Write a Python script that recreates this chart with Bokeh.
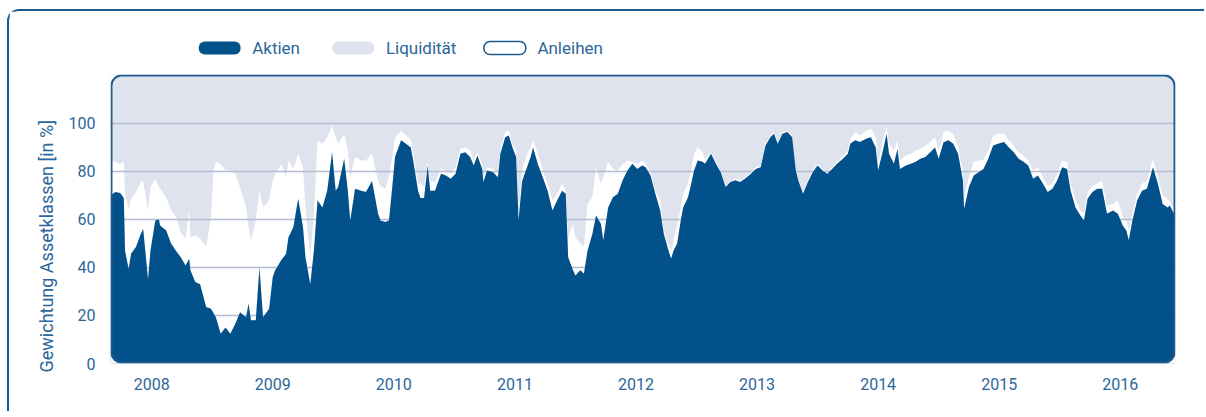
import numpy as np
from bokeh.plotting import figure
from bokeh.layouts import column
from bokeh.models import BoxAnnotation, FixedTicker, Range1d, ColumnDataSource, Title
try:
    from bokeh.models import Node
except ImportError:
    from bokeh.models.nodes import Node
from bokeh.core.properties import value
from bokeh.embed import file_html
from bokeh.resources import INLINE

# ---------------- data (fractional years, weights in %) ----------------
dates = [
    2008.16, 2008.20, 2008.24, 2008.27, 2008.28, 2008.31, 2008.33, 2008.37, 2008.41, 2008.43,
    2008.47, 2008.49, 2008.53, 2008.56, 2008.57, 2008.62, 2008.66, 2008.70, 2008.74, 2008.78,
    2008.81, 2008.82, 2008.86, 2008.90, 2008.95, 2008.99, 2009.01, 2009.03, 2009.07, 2009.11,
    2009.15, 2009.19, 2009.23, 2009.28, 2009.30, 2009.32, 2009.36, 2009.39, 2009.42, 2009.47,
    2009.50, 2009.52, 2009.57, 2009.61, 2009.63, 2009.67, 2009.71, 2009.75, 2009.77, 2009.81,
    2009.84, 2009.87, 2009.91, 2009.95, 2009.99, 2010.02, 2010.04, 2010.09, 2010.12, 2010.14,
    2010.18, 2010.23, 2010.27, 2010.32, 2010.37, 2010.39, 2010.43, 2010.46, 2010.49, 2010.51,
    2010.56, 2010.60, 2010.64, 2010.66, 2010.70, 2010.72, 2010.75, 2010.78, 2010.80, 2010.84,
    2010.89, 2010.93, 2010.97, 2011.01, 2011.05, 2011.09, 2011.13, 2011.16, 2011.19, 2011.23,
    2011.24, 2011.27, 2011.32, 2011.36, 2011.38, 2011.42, 2011.45, 2011.48, 2011.51, 2011.53,
    2011.56, 2011.60, 2011.63, 2011.65, 2011.69, 2011.73, 2011.77, 2011.81, 2011.85, 2011.89,
    2011.92, 2011.94, 2011.98, 2012.00, 2012.04, 2012.07, 2012.10, 2012.14, 2012.17, 2012.21,
    2012.23, 2012.27, 2012.31, 2012.35, 2012.39, 2012.43, 2012.47, 2012.51, 2012.55, 2012.58,
    2012.62, 2012.66, 2012.70, 2012.73, 2012.76, 2012.79, 2012.81, 2012.84, 2012.87, 2012.89,
    2012.93, 2012.95, 2012.98, 2013.01, 2013.05, 2013.07, 2013.12, 2013.16, 2013.20, 2013.24,
    2013.28, 2013.32, 2013.36, 2013.40, 2013.45, 2013.49, 2013.53, 2013.57, 2013.61, 2013.64,
    2013.67, 2013.71, 2013.75, 2013.79, 2013.82, 2013.84, 2013.88, 2013.92, 2013.96, 2014.00,
    2014.04, 2014.08, 2014.12, 2014.16, 2014.21, 2014.25, 2014.27, 2014.31, 2014.35, 2014.40,
    2014.44, 2014.48, 2014.50, 2014.54, 2014.57, 2014.59, 2014.63, 2014.66, 2014.68, 2014.73,
    2014.77, 2014.81, 2014.85, 2014.89, 2014.93, 2014.97, 2015.00, 2015.04, 2015.08, 2015.12,
    2015.16, 2015.20, 2015.21, 2015.25, 2015.29, 2015.33, 2015.37, 2015.41, 2015.45, 2015.49,
    2015.54, 2015.58, 2015.62, 2015.66, 2015.70, 2015.74, 2015.78, 2015.82, 2015.86, 2015.90,
    2015.94, 2015.98, 2016.02, 2016.06, 2016.09, 2016.13, 2016.17, 2016.20, 2016.23, 2016.27,
    2016.31, 2016.35, 2016.39, 2016.44, 2016.48, 2016.52, 2016.55, 2016.57, 2016.60, 2016.64,
    2016.68, 2016.72, 2016.77, 2016.81, 2016.85, 2016.89, 2016.91, 2016.95,
]

aktien = [
    70, 71.4, 71, 69, 47, 39.4, 45.7, 48.5, 54, 56,
    35, 47, 59.6, 60, 57.5, 55.4, 50, 47, 44.3, 40.8,
    43.6, 38.8, 34, 33, 23.5, 22.8, 21, 19.3, 12.4, 15,
    12.4, 16.5, 21.4, 19.3, 25, 18, 18, 40, 19.3, 22.8,
    36, 38.8, 43, 45.7, 52.6, 56.8, 68.6, 56.8, 44.3, 33,
    47, 68, 65, 72, 88, 72, 73.5, 85.3, 72, 59.6,
    72.8, 72, 71.4, 76, 62.4, 59.6, 59, 59.6, 75, 86,
    93, 91.5, 90, 84.6, 72, 69, 69, 82.5, 72, 72,
    79, 78.3, 77, 79, 87.4, 88, 86, 82.5, 86.7, 81,
    75.6, 80.4, 79.7, 77.6, 87.4, 94.3, 95, 90, 86, 59.6,
    76, 81.8, 86, 90, 83, 77.6, 72, 63.7, 68, 72,
    70.7, 44.3, 38.8, 36.7, 38.8, 37.4, 47, 54, 61.7, 58.2,
    51.3, 65, 69.3, 70.7, 76.3, 80.4, 83.2, 81, 82.5, 81.8,
    78.3, 70.7, 63.7, 54, 48.5, 43.6, 47, 50, 59.6, 65,
    69.3, 73.5, 80.4, 84.6, 84, 83.2, 87.4, 83.2, 79.7, 73.5,
    75.6, 76.3, 75.6, 77, 79, 81, 81.8, 90.8, 94.3, 95.7,
    91.5, 95.7, 96.4, 94.3, 80.4, 76.3, 70.7, 75.6, 79.7, 82.5,
    80.4, 79, 81, 83.2, 85.3, 87.4, 91.5, 93, 92.3, 93.6,
    94.3, 90, 80.4, 88.7, 95.7, 87.4, 83.2, 89.4, 81, 82.5,
    83.2, 84, 85.3, 86, 88, 90, 85.3, 92.2, 93, 91.5,
    87.4, 76.3, 64.4, 73.5, 78.3, 79.7, 81, 85.3, 90.8, 91.5,
    92.3, 90, 88, 85.3, 84, 82.5, 77, 78.3, 75, 71.4,
    72.8, 76.3, 81.8, 81, 72, 65, 61.7, 59.6, 68.6, 71.4,
    72.8, 72.8, 62.4, 63.7, 62.4, 57.5, 55.4, 51.3, 59.6, 68,
    72, 72.8, 81.8, 75, 66.5, 65, 65.8, 61.7,
]

# top of the Anleihen band (Aktien + Anleihen); the rest up to 100 % is Liquidität
aktien_plus_anleihen = [
    84.6, 84, 83, 84, 70.7, 64, 68.6, 71.4, 75.6, 76,
    64, 73.5, 77, 73.5, 72.8, 69.3, 64, 61, 54.7, 52,
    64, 52.6, 53.3, 52, 48.5, 61, 80, 84, 83, 80.4,
    80.4, 79, 73.5, 65, 56.8, 51, 59.6, 72, 65, 68,
    76, 79, 83, 77.6, 84.6, 81, 87.4, 81.8, 65, 44.3,
    62, 93, 91.5, 94.3, 99, 94, 91.5, 95.7, 88.7, 77.6,
    86, 84.6, 84.6, 87.4, 76, 74, 72.8, 77.6, 87.4, 94.3,
    97, 95, 93, 87.4, 75, 75, 73.5, 84, 76, 75.6,
    81, 79.7, 79, 81.8, 89.4, 90, 88.7, 84.6, 88, 83,
    77.6, 81.8, 81, 79.7, 89.4, 96.4, 97, 91.5, 88.7, 62.4,
    80.4, 87.4, 90, 93, 87.4, 80.4, 75, 68, 70.7, 75,
    72, 52.6, 58, 52.6, 50, 48.5, 66.5, 69.3, 81.8, 75,
    77.6, 84, 81, 80.4, 83, 84.6, 84, 83, 84.6, 83.2,
    79.7, 72, 68, 55.4, 50.5, 47, 51, 57.5, 65, 70.7,
    75, 79, 87.4, 90, 88, 85, 88, 84, 80.4, 74,
    76, 77, 76.3, 77.6, 79.7, 81.8, 82.5, 91.5, 95, 96.4,
    92, 96.4, 96.8, 95, 81, 77, 71.4, 76.3, 80.4, 83.2,
    81, 79.7, 81.8, 84, 86.7, 88.7, 93.5, 96.4, 95, 97,
    97.8, 94.3, 82.5, 93, 98.5, 91.5, 88.7, 93, 84.6, 86.7,
    87.4, 88.7, 89.4, 90.8, 92.2, 94.3, 88.7, 96.4, 97, 95.7,
    90, 80.4, 69.3, 77.6, 84, 84.6, 85, 88.7, 95, 95.7,
    95.7, 93, 90.8, 88, 86.7, 84.6, 80.4, 81.8, 77.6, 74,
    75, 79, 84.6, 84, 75, 68, 63.7, 62.4, 71.4, 74,
    75, 76, 65.8, 66.5, 68, 61, 59.6, 55.4, 62.4, 70.7,
    75, 76, 85.3, 77.6, 70, 68.6, 67, 63.7,
]

year_labels = ["2008", "2009", "2010", "2011", "2012", "2013", "2014", "2015", "2016"]
y_ticks = [0, 20, 40, 60, 80, 100]
series_names = ["Aktien", "Liquidität", "Anleihen"]
y_title = "Gewichtung Assetklassen [in %]"

# ---------------- styling ----------------
DARK = "#03518a"
LIGHT = "#dfe3ed"
GRID = "#b3bdd3"
TEXT = "#2d669b"
BORDER = "#1d5b8f"

W = 1195

# ---------------- legend strip (pixel layout units) ----------------
leg = figure(width=W, height=50, output_backend="svg", toolbar_location=None,
             x_range=Range1d(9, 9 + W), y_range=Range1d(61, 11),
             x_axis_location=None, y_axis_location=None,
             min_border=0, min_border_left=0, min_border_right=0,
             min_border_top=0, min_border_bottom=0)
leg.outline_line_color = None
leg.grid.visible = False
leg.background_fill_color = "white"
leg.border_fill_color = "white"

pill_left = [108, 258, 428]
pill_fill = [DARK, LIGHT, "white"]
pill_line = [None, None, BORDER]
for pl, fc, lc in zip(pill_left, pill_fill, pill_line):
    leg.add_layout(BoxAnnotation(left=pl, right=pl + 47, top=41, bottom=54,
                                 fill_color=fc, fill_alpha=1, line_color=lc, line_alpha=1,
                                 line_width=1.5, border_radius=6))
leg.text(x=[168, 318, 488], y=[47.5, 47.5, 47.5], text=series_names,
         text_baseline="middle", text_align="left", text_color=TEXT,
         text_font=value("Roboto"), text_font_size="17px")

# ---------------- main chart ----------------
src = ColumnDataSource(dict(
    x=dates,
    a=aktien,
    t=np.maximum(np.array(aktien_plus_anleihen), np.array(aktien)),
))

p = figure(
    width=W, height=350,
    output_backend="svg", toolbar_location=None,
    x_range=Range1d(2008.16, 2016.956), y_range=Range1d(0, 120.4),
    min_border_left=101, min_border_right=29, min_border_top=13, min_border_bottom=48,
)
p.outline_line_color = None
p.background_fill_color = LIGHT
p.border_fill_color = "white"

# Anleihen band (white) under the grid, Aktien (dark) above the grid
p.varea(x="x", y1="a", y2="t", source=src, fill_color="white", level="image")
p.varea(x="x", y1=0, y2="a", source=src, fill_color=DARK)

p.xgrid.visible = False
p.ygrid.ticker = FixedTicker(ticks=[t for t in y_ticks if t > 0])
p.ygrid.grid_line_color = GRID
p.ygrid.grid_line_width = 1.5

for ax in (p.xaxis[0], p.yaxis[0]):
    ax.axis_line_color = None
    ax.major_tick_line_color = None
    ax.minor_tick_line_color = None
    ax.major_label_text_color = TEXT
    ax.major_label_text_font = "Roboto"
    ax.major_label_text_font_size = "16px"

p.yaxis.ticker = FixedTicker(ticks=y_ticks)
p.yaxis.major_label_standoff = 9

xt = [int(y) + 0.5 for y in year_labels]
p.xaxis.ticker = FixedTicker(ticks=xt)
p.xaxis.major_label_overrides = {t: lab for t, lab in zip(xt, year_labels)}
p.xaxis.major_label_standoff = 8

# vertical axis title, starting a little below the plot bottom as in the original
p.add_layout(Title(text=y_title, align="left", offset=-9, text_color=TEXT,
                   text_font="Roboto", text_font_size="18px", text_font_style="normal",
                   standoff=18), "left")


def fnode(sym, off):
    return Node(target="frame", symbol=sym, offset=off)


# white mask rounding the frame corners, then rounded frame border
p.add_layout(BoxAnnotation(
    left=fnode("left", -2), right=fnode("right", 2), top=fnode("top", -2), bottom=fnode("bottom", 2),
    fill_color=None, line_color="white", line_alpha=1, line_width=6, border_radius=13))
p.add_layout(BoxAnnotation(
    left=fnode("left", 1), right=fnode("right", -1), top=fnode("top", 1), bottom=fnode("bottom", -1),
    fill_color=None, line_color=BORDER, line_alpha=1, line_width=2, border_radius=10))

layout = column(leg, p, spacing=0)
layout.styles = {
    "margin-left": "7px",
    "margin-top": "9px",
    "border-top": f"2px solid {BORDER}",
    "border-left": f"2px solid {BORDER}",
    "border-top-left-radius": "12px",
}

open("out.html", "w").write(file_html(layout, INLINE))
